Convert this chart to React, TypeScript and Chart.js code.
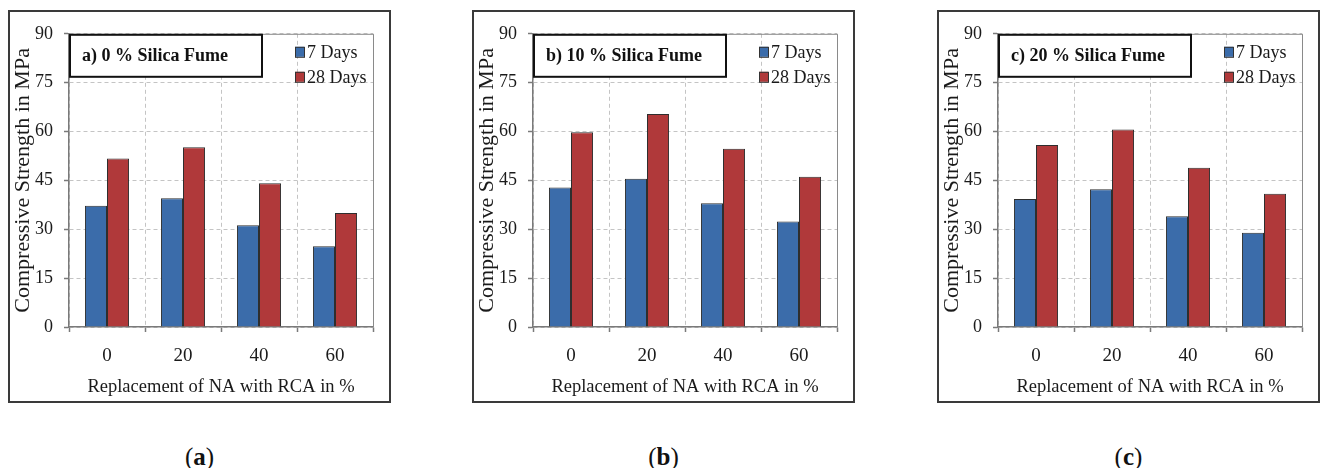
import React, { useEffect, useRef } from "react";
import { Chart, registerables } from "chart.js";

Chart.register(...registerables);
Chart.defaults.font.family = "'Liberation Serif', 'Times New Roman', serif";
Chart.defaults.color = "#1a1a1a";

const categories = ["0", "20", "40", "60"];
const seriesLabels = ["7 Days", "28 Days"];
const panelTitles = ["a) 0 % Silica Fume", "b) 10 % Silica Fume", "c) 20 % Silica Fume"];
const captionLetters = ["a", "b", "c"];

const days7_sf0 = [37.2, 39.5, 31.2, 24.8];
const days28_sf0 = [51.7, 55.2, 44.1, 35.0];
const days7_sf10 = [42.8, 45.5, 38.0, 32.4];
const days28_sf10 = [59.8, 65.4, 54.7, 46.1];
const days7_sf20 = [39.3, 42.3, 34.0, 28.9];
const days28_sf20 = [55.9, 60.6, 48.9, 40.9];

const yMin = 0;
const yMax = 90;
const yStep = 15;

const xAxisTitle = "Replacement of NA with RCA in %";
const yAxisTitle = "Compressive Strength in MPa";

const seven = [days7_sf0, days7_sf10, days7_sf20];
const twentyEight = [days28_sf0, days28_sf10, days28_sf20];

const BLUE = "#3b6caa";
const RED = "#b0393a";
const BAR_BORDER = "#2e2e2e";
const AXIS = "#7a7a7a";
const GRID = "#c4c4c4";

const panelLefts = [8, 472, 937];

const decorPlugin = {
  id: "panelDecor",
  afterDraw(chart: any, _args: any, opts: any) {
    const ctx = chart.ctx;
    const ca = chart.chartArea;
    ctx.save();
    // frame top & right
    ctx.strokeStyle = "#8a8a8a";
    ctx.lineWidth = 1;
    ctx.setLineDash([]);
    ctx.beginPath();
    ctx.moveTo(ca.left, ca.top + 0.5);
    ctx.lineTo(ca.right + 0.5, ca.top + 0.5);
    ctx.lineTo(ca.right + 0.5, ca.bottom);
    ctx.stroke();

    // title box
    const bx = ca.left + 1;
    const by = ca.top + 1;
    const bw = 192;
    const bh = 42;
    ctx.fillStyle = "#ffffff";
    ctx.fillRect(bx, by, bw, bh);
    ctx.strokeStyle = "#111";
    ctx.lineWidth = 2;
    ctx.strokeRect(bx, by, bw, bh);
    ctx.fillStyle = "#111";
    ctx.font = "bold 18px 'Liberation Serif', 'Times New Roman', serif";
    ctx.textBaseline = "middle";
    ctx.textAlign = "left";
    ctx.fillText(opts.title, bx + 12, by + bh / 2 + 1);

    // legend
    const lx = ca.right - 78;
    const ly0 = ca.top + 18;
    chart.data.datasets.forEach((ds: any, i: number) => {
      const cy = ly0 + i * 25;
      ctx.fillStyle = ds.backgroundColor;
      ctx.fillRect(lx, cy - 5, 9, 10);
      ctx.strokeStyle = "#333";
      ctx.lineWidth = 1;
      ctx.strokeRect(lx + 0.5, cy - 4.5, 9, 10);
      ctx.fillStyle = "#1a1a1a";
      ctx.font = "18px 'Liberation Serif', 'Times New Roman', serif";
      ctx.textAlign = "left";
      ctx.textBaseline = "middle";
      ctx.fillText(ds.label, lx + 12, cy + 1);
    });
    ctx.restore();
  },
};

function Panel({ idx }: { idx: number }) {
  const ref = useRef<HTMLCanvasElement>(null);
  useEffect(() => {
    const chart = new Chart(ref.current as HTMLCanvasElement, {
      type: "bar",
      data: {
        labels: categories,
        datasets: [
          {
            label: seriesLabels[0],
            data: seven[idx],
            backgroundColor: BLUE,
            borderColor: BAR_BORDER,
            borderWidth: 1,
          },
          {
            label: seriesLabels[1],
            data: twentyEight[idx],
            backgroundColor: RED,
            borderColor: BAR_BORDER,
            borderWidth: 1,
          },
        ],
      },
      options: {
        responsive: false,
        maintainAspectRatio: false,
        animation: false,
        datasets: { bar: { categoryPercentage: 0.58, barPercentage: 1 } },
        layout: { padding: { left: 0, right: 16, top: 19, bottom: 0 } },
        plugins: {
          legend: { display: false },
          tooltip: { enabled: false },
          panelDecor: { title: panelTitles[idx] },
        } as any,
        scales: {
          x: {
            grid: {
              color: GRID,
              lineWidth: 1,
              offset: true,
              drawTicks: true,
              tickLength: 5,
              tickColor: AXIS,
              tickBorderDash: [],
              tickWidth: 1.5,
            } as any,
            border: { color: AXIS, width: 1.5, dash: [4, 3] },
            ticks: {
              font: { size: 19 },
              color: "#1a1a1a",
              padding: 13,
            },
            title: {
              display: true,
              text: xAxisTitle,
              font: { size: 18.5 },
              color: "#1a1a1a",
              padding: { top: 0, bottom: 3 },
            },
            afterFit: (s: any) => {
              s.height = 74;
            },
          },
          y: {
            min: yMin,
            max: yMax,
            grid: {
              color: GRID,
              lineWidth: 1,
              drawTicks: true,
              tickLength: 5,
              tickColor: AXIS,
              tickBorderDash: [],
              tickWidth: 1.5,
            } as any,
            border: { color: AXIS, width: 1.5, dash: [4, 3] },
            ticks: {
              stepSize: yStep,
              font: { size: 18 },
              color: "#1a1a1a",
              padding: 11,
            },
            title: {
              display: true,
              text: yAxisTitle,
              font: { size: 22 },
              color: "#1a1a1a",
              padding: { top: 0, bottom: 0 },
            },
            afterFit: (s: any) => {
              s.width = 59;
            },
          },
        },
      },
      plugins: [decorPlugin],
    });
    return () => chart.destroy();
  }, [idx]);

  return (
    <div
      style={{
        position: "absolute",
        left: panelLefts[idx],
        top: 10,
        width: 383,
        height: 393,
        boxSizing: "border-box",
        border: "2px solid #3a3a3a",
        background: "#fff",
      }}
    >
      <canvas ref={ref} width={379} height={389} style={{ display: "block", width: 379, height: 389 }} />
    </div>
  );
}

export default function App() {
  return (
    <div
      style={{
        position: "absolute",
        left: 0,
        top: 0,
        width: 1321,
        height: 468,
        background: "#fff",
        overflow: "hidden",
      }}
    >
      {[0, 1, 2].map((i) => (
        <Panel key={i} idx={i} />
      ))}
      {[0, 1, 2].map((i) => (
        <div
          key={"c" + i}
          style={{
            position: "absolute",
            left: panelLefts[i],
            width: 383,
            top: 442,
            textAlign: "center",
            fontFamily: "'Liberation Serif', 'Times New Roman', serif",
            fontSize: 25,
            lineHeight: "29px",
            color: "#111",
          }}
        >
          (<b>{captionLetters[i]}</b>)
        </div>
      ))}
    </div>
  );
}
